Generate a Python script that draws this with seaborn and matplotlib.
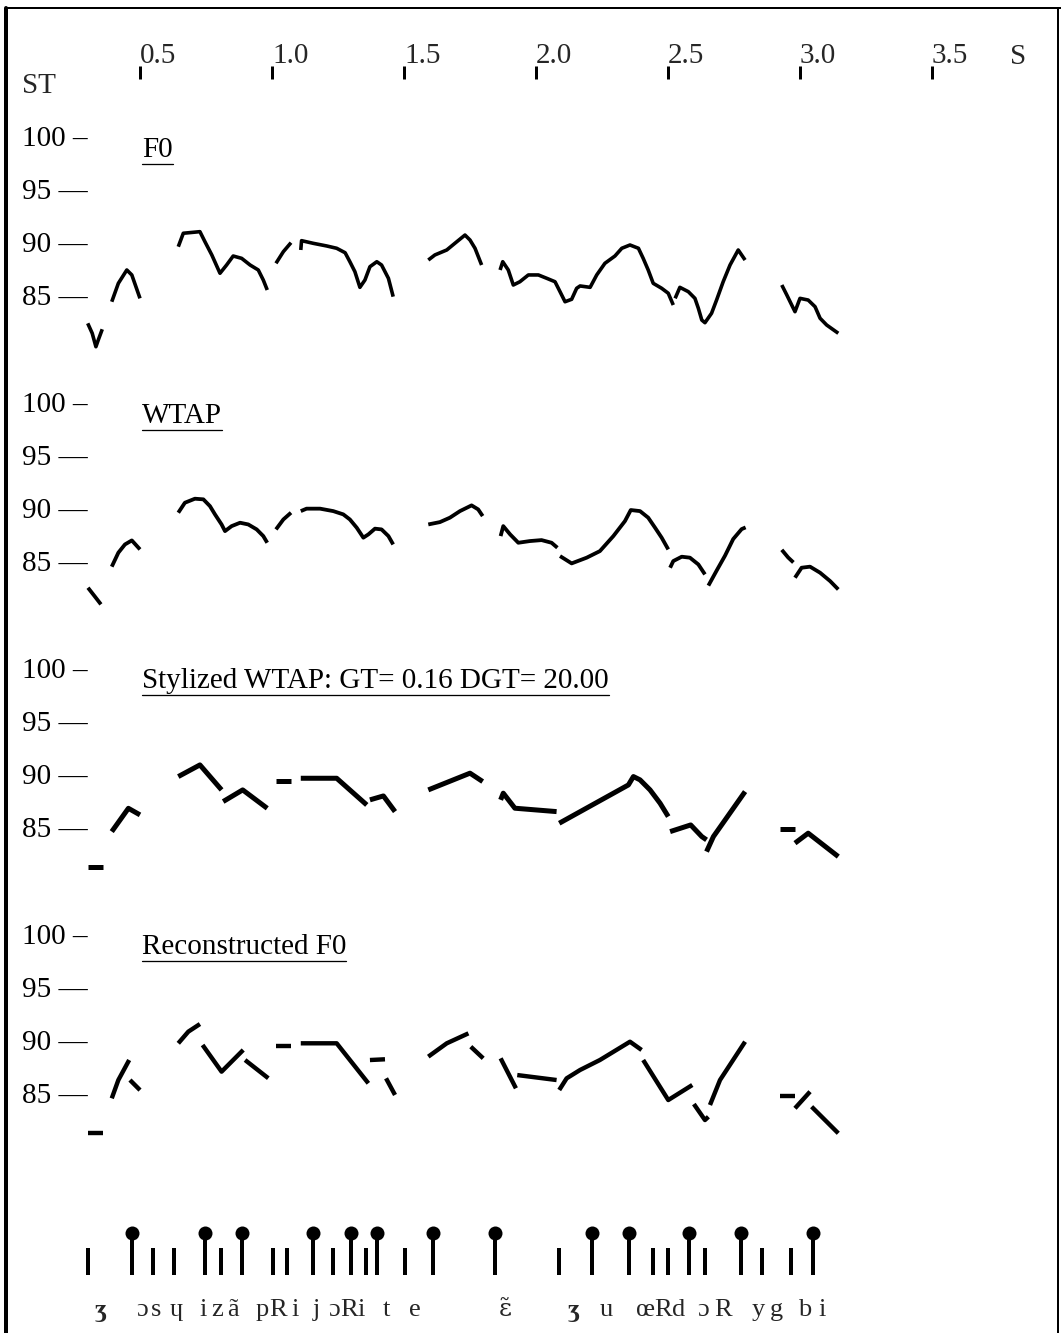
import numpy as np
import pandas as pd
import matplotlib
matplotlib.use("Agg")
import matplotlib.pyplot as plt
import seaborn as sns
from matplotlib.lines import Line2D
from matplotlib.transforms import blended_transform_factory

nan = np.nan

# ---------------- data ----------------
tick_times = [0.5, 1.0, 1.5, 2.0, 2.5, 3.0, 3.5]
tick_labels = ["0.5", "1.0", "1.5", "2.0", "2.5", "3.0", "3.5"]
st_ticks = [100, 95, 90, 85]
st_tick_labels = ["100 \u2013", "95 \u2014", "90 \u2014", "85 \u2014"]
panel_titles = ["F0", "WTAP", "Stylized WTAP: GT= 0.16 DGT= 20.00", "Reconstructed F0"]

f0_t = [0.302, 0.319, 0.333, 0.342, 0.357, nan,
        0.393, 0.418, 0.450, 0.469, 0.500, nan,
        0.645, 0.664, 0.727, 0.746, 0.772, 0.803, 0.828, 0.853, 0.885, 0.917, 0.948, 0.967, 0.982, nan,
        1.015, 1.043, 1.072, nan,
        1.109, 1.112, 1.156, 1.207, 1.245, 1.277, 1.295, 1.314, 1.333, 1.352, 1.371, 1.397, 1.415, 1.441, 1.459, nan,
        1.592, 1.617, 1.662, 1.700, 1.731, 1.750, 1.769, 1.794, nan,
        1.864, 1.874, 1.895, 1.914, 1.939, 1.971, 2.009, 2.041, 2.072, 2.091, 2.110, 2.135, 2.154, 2.167, 2.205,
        2.230, 2.261, 2.299, 2.325, 2.356, 2.388, 2.406, 2.425, 2.444, 2.476, 2.501, 2.520, nan,
        2.527, 2.545, 2.577, 2.602, 2.615, 2.628, 2.640, 2.665, 2.684, 2.709, 2.735, 2.766, 2.792, nan,
        2.931, 2.950, 2.981, 3.000, 3.031, 3.057, 3.076, 3.101, 3.145]
f0_st = [82.6, 81.66, 80.39, 81.03, 82.04, nan,
         84.64, 86.38, 87.64, 87.17, 84.96, nan,
         89.84, 91.11, 91.26, 90.31, 89.06, 87.33, 88.11, 88.96, 88.74, 88.11, 87.64, 86.69, 85.75, nan,
         88.27, 89.37, 90.22, nan,
         89.53, 90.41, 90.16, 89.91, 89.69, 89.27, 88.42, 87.48, 86.0, 86.69, 87.95, 88.42, 88.11, 86.85, 85.12, nan,
         88.58, 89.06, 89.53, 90.31, 90.94, 90.47, 89.69, 88.11, nan,
         87.64, 88.42, 87.64, 86.22, 86.53, 87.17, 87.17, 86.85, 86.53, 85.59, 84.64, 84.87, 85.91, 86.13, 86.0,
         87.17, 88.27, 88.96, 89.69, 90.0, 89.69, 88.74, 87.64, 86.38, 85.91, 85.44, 84.33, nan,
         84.96, 86.0, 85.59, 84.96, 84.02, 82.91, 82.66, 83.55, 84.8, 86.53, 88.11, 89.53, 88.58, nan,
         86.22, 85.28, 83.7, 84.96, 84.8, 84.17, 83.08, 82.44, 81.66]

wtap_t = [0.303, 0.330, 0.352, nan,
          0.393, 0.418, 0.443, 0.469, 0.500, nan,
          0.645, 0.670, 0.708, 0.740, 0.765, 0.784, 0.809, 0.822, 0.847, 0.879, 0.910, 0.942, 0.967, 0.982, nan,
          1.015, 1.043, 1.072, nan,
          1.109, 1.131, 1.182, 1.232, 1.270, 1.295, 1.321, 1.346, 1.365, 1.390, 1.415, 1.441, 1.459, nan,
          1.592, 1.636, 1.674, 1.712, 1.756, 1.781, 1.798, nan,
          1.866, 1.876, 1.902, 1.933, 1.977, 2.021, 2.059, 2.081, nan,
          2.091, 2.135, 2.192, 2.242, 2.293, 2.337, 2.359, 2.394, 2.425, 2.451, 2.476, 2.501, nan,
          2.508, 2.520, 2.552, 2.583, 2.615, 2.640, nan,
          2.653, 2.684, 2.716, 2.747, 2.779, 2.794, nan,
          2.931, 2.955, 2.975, nan,
          2.981, 3.006, 3.038, 3.076, 3.114, 3.145]
wtap_st = [82.76, 81.9, 81.19, nan,
           84.75, 86.07, 86.85, 87.23, 86.38, nan,
           89.85, 90.79, 91.17, 91.11, 90.47, 89.69, 88.74, 88.11, 88.58, 88.9, 88.74, 88.27, 87.64, 87.01, nan,
           88.27, 89.21, 89.85, nan,
           90.0, 90.23, 90.23, 90.0, 89.69, 89.21, 88.43, 87.49, 87.8, 88.34, 88.27, 87.64, 86.85, nan,
           88.74, 88.96, 89.38, 90.0, 90.54, 90.16, 89.53, nan,
           87.64, 88.58, 87.8, 87.01, 87.17, 87.26, 87.01, 86.54, nan,
           85.75, 85.06, 85.6, 86.22, 87.64, 89.06, 90.1, 90.0, 89.38, 88.43, 87.49, 86.38, nan,
           84.65, 85.28, 85.69, 85.6, 84.96, 84.02, nan,
           82.96, 84.37, 85.79, 87.36, 88.3, 88.46, nan,
           86.34, 85.62, 85.15, nan,
           83.71, 84.65, 84.75, 84.18, 83.39, 82.6]

sty_t = [0.302, 0.361, nan,
         0.393, 0.456, 0.500, nan,
         0.645, 0.727, 0.809, nan,
         0.815, 0.889, 0.982, nan,
         1.015, 1.071, nan,
         1.109, 1.245, 1.359, nan,
         1.371, 1.422, 1.466, nan,
         1.592, 1.750, 1.798, nan,
         1.866, 1.876, 1.920, 2.078, nan,
         2.088, 2.350, 2.369, 2.394, 2.432, 2.470, 2.501, nan,
         2.508, 2.586, 2.628, 2.646, nan,
         2.646, 2.672, 2.792, nan,
         2.924, 2.981, nan,
         2.981, 3.031, 3.145]
sty_st = [81.55, 81.55, nan,
          84.86, 87.06, 86.44, nan,
          90.06, 91.16, 88.8, nan,
          87.7, 88.8, 87.06, nan,
          89.68, 89.68, nan,
          89.9, 89.9, 87.38, nan,
          87.86, 88.23, 86.75, nan,
          88.8, 90.38, 89.59, nan,
          87.86, 88.49, 87.07, 86.75, nan,
          85.65, 89.27, 90.06, 89.75, 88.8, 87.54, 86.28, nan,
          84.86, 85.49, 84.39, 84.08, nan,
          82.97, 84.39, 88.64, nan,
          85.08, 85.08, nan,
          83.77, 84.71, 82.5]

rec_t = [0.302, 0.361, nan,
         0.393, 0.418, 0.459, nan,
         0.462, 0.500, nan,
         0.645, 0.683, 0.727, nan,
         0.737, 0.809, 0.891, nan,
         0.898, 0.986, nan,
         1.015, 1.072, nan,
         1.109, 1.245, 1.365, nan,
         1.371, 1.428, nan,
         1.432, 1.466, nan,
         1.592, 1.662, 1.744, nan,
         1.753, 1.800, nan,
         1.866, 1.924, nan,
         1.929, 2.078, nan,
         2.088, 2.116, 2.167, 2.242, 2.356, 2.400, nan,
         2.406, 2.501, 2.592, nan,
         2.598, 2.640, 2.653, nan,
         2.659, 2.697, 2.792, nan,
         2.924, 2.981, nan,
         2.981, 3.038, nan,
         3.044, 3.145]
rec_st = [81.5, 81.5, nan,
          84.8, 86.53, 88.42, nan,
          86.53, 85.58, nan,
          90.0, 91.1, 91.82, nan,
          89.84, 87.32, 89.37, nan,
          88.42, 86.7, nan,
          89.74, 89.74, nan,
          90.0, 90.0, 86.22, nan,
          88.42, 88.49, nan,
          86.69, 85.12, nan,
          88.74, 90.0, 90.94, nan,
          89.68, 88.58, nan,
          88.58, 85.75, nan,
          87.0, 86.53, nan,
          85.59, 86.69, 87.48, 88.42, 90.15, 89.37, nan,
          88.42, 84.64, 86.06, nan,
          84.26, 82.75, 83.06, nan,
          84.17, 86.53, 90.15, nan,
          85.05, 85.05, nan,
          83.86, 85.43, nan,
          84.01, 81.5]

boundary_times = [0.303, 0.549, 0.629, 0.807, 1.004, 1.057, 1.231, 1.356, 1.504,
                  2.087, 2.443, 2.500, 2.640, 2.856, 2.966]
accent_times = [0.470, 0.746, 0.886, 1.155, 1.299, 1.398, 1.610, 1.845,
                2.212, 2.352, 2.580, 2.777, 3.049]
phone_labels = ["\u0292", "\u0254", "s", "\u0265", "i", "z", "\u00e3", "p", "R", "i", "j",
                "\u0254", "R", "i", "t", "e", "\u025b\u0303", "\u0292", "u", "\u0153", "R", "d",
                "\u0254", "R", "y", "g", "b", "i"]
phone_times = [0.351, 0.506, 0.561, 0.636, 0.739, 0.791, 0.853, 0.962, 1.024, 1.086, 1.167,
               1.236, 1.290, 1.336, 1.434, 1.542, 1.883, 2.141, 2.268, 2.413, 2.482, 2.539,
               2.634, 2.709, 2.842, 2.912, 3.019, 3.082]

# ---------------- layout ----------------
W, H = 1061, 1333
PX_PER_S = 264.0
X0 = 8.0
XLIM = (-X0 / PX_PER_S, (W - X0) / PX_PER_S)
PX_PER_ST = 10.585
PANEL_STEP = 266.1
Y90 = 245.0
ST_LO, ST_HI = 76.0, 106.0
SERIF = ["Liberation Serif", "DejaVu Serif"]
FS = 21

sns.set_theme(style="white")
plt.rcParams["font.family"] = SERIF

fig = plt.figure(figsize=(W / 100, H / 100), dpi=100)
fig.patch.set_facecolor("white")

overlay = fig.add_axes([0, 0, 1, 1])
overlay.set_xlim(*XLIM)
overlay.set_ylim(H, 0)
overlay.axis("off")
overlay.patch.set_alpha(0)


def px(v):
    return v * 0.72  # pixel -> points at dpi 100


def to_frame(t, st):
    seg = np.cumsum(np.isnan(np.asarray(t, float)))
    df = pd.DataFrame({"t": t, "st": st, "seg": seg})
    return df.dropna()


series = [(f0_t, f0_st, 3.6), (wtap_t, wtap_st, 3.8), (sty_t, sty_st, 5.0), (rec_t, rec_st, 4.4)]

title_pos = [150, 416, 681, 947]
title_texts = []
for k, (tt, ss, lw) in enumerate(series):
    yc = Y90 + PANEL_STEP * k
    top_px = yc - (ST_HI - 90) * PX_PER_ST
    bot_px = yc + (90 - ST_LO) * PX_PER_ST
    ax = fig.add_axes([0, 1 - bot_px / H, 1, (bot_px - top_px) / H])
    ax.patch.set_alpha(0)
    ax.set_xlim(*XLIM)
    ax.set_ylim(ST_LO, ST_HI)
    df = to_frame(tt, ss)
    sns.lineplot(data=df, x="t", y="st", units="seg", estimator=None, sort=False,
                 color="black", linewidth=px(lw), ax=ax, legend=False)
    for line in ax.get_lines():
        line.set_solid_capstyle("butt")
    ax.axis("off")
    tr = blended_transform_factory(fig.transFigure, ax.transData)
    for v, lab in zip(st_ticks, st_tick_labels):
        ax.text(22 / W, v, lab, transform=tr, fontsize=FS, ha="left", va="center",
                family=SERIF, color="black")
    txt = overlay.text((142 - X0) / PX_PER_S, title_pos[k], panel_titles[k], fontsize=FS,
                       ha="left", va="center", family=SERIF, color="black")
    title_texts.append(txt)

fig.canvas.draw()
renderer = fig.canvas.get_renderer()
inv = overlay.transData.inverted()
for txt in title_texts:
    bb = txt.get_window_extent(renderer)
    (x0d, y0d) = inv.transform((bb.x0, bb.y0))
    (x1d, _) = inv.transform((bb.x1, bb.y0))
    overlay.add_line(Line2D([x0d, x1d], [y0d + 1, y0d + 1], color="black", lw=px(1.3)))

# top time axis
overlay.vlines(tick_times, 66, 79, color="black", linewidth=px(3))
for t, lab in zip(tick_times, tick_labels):
    overlay.text(t, 56, lab, fontsize=FS, ha="left", va="center", family=SERIF)
overlay.text((1010 - X0) / PX_PER_S, 57, "S", fontsize=FS, ha="left", va="center", family=SERIF)
overlay.text((22 - X0) / PX_PER_S, 86, "ST", fontsize=FS, ha="left", va="center", family=SERIF)

# segmentation strip
seg_ax = fig.add_axes([0, 1 - 1275 / H, 1, (1275 - 1228) / H])
seg_ax.patch.set_alpha(0)
seg_ax.set_xlim(*XLIM)
seg_ax.set_ylim(0, 1)
seg_ax.axis("off")
bar_top = (1275 - 1248) / 47
stem_top = (1275 - 1233) / 47
seg_ax.vlines(boundary_times, 0, bar_top, color="black", linewidth=px(4))
seg_ax.vlines(accent_times, 0, stem_top, color="black", linewidth=px(4))
sns.scatterplot(x=accent_times, y=[stem_top] * len(accent_times), ax=seg_ax, color="black",
                s=px(14) ** 2, marker="o", edgecolor="black", linewidth=0, legend=False,
                clip_on=False)
for t, lab in zip(phone_times, phone_labels):
    if len(lab) == 2:  # letter + combining tilde: DejaVu Serif stacks the mark on the letter
        overlay.text(t, 1310, lab, fontsize=FS - 3, ha="center", va="center",
                     family=["DejaVu Serif"])
    else:
        weight = "bold" if lab == "\u0292" else "normal"
        overlay.text(t, 1310, lab, fontsize=FS - 2, ha="center", va="center", family=SERIF,
                     fontweight=weight)

# frame
overlay.add_line(Line2D([XLIM[0] + 6 / PX_PER_S] * 2, [H, 8], color="black", lw=px(4), clip_on=False))
overlay.add_line(Line2D([XLIM[0] + 6 / PX_PER_S, XLIM[1]], [8, 8], color="black", lw=px(2), clip_on=False))
overlay.add_line(Line2D([XLIM[1] - 3 / PX_PER_S] * 2, [8, H], color="black", lw=px(2), clip_on=False))

fig.savefig("out.png", dpi=100, facecolor="white")
